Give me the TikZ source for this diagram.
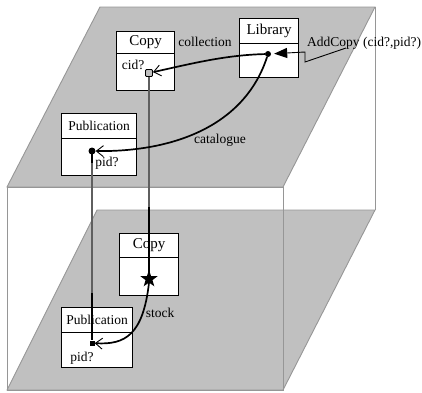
\documentclass[tikz,border=0pt]{standalone}
\usepackage{fontspec}
\setmainfont{Liberation Serif}
\usetikzlibrary{arrows.meta,shapes.geometric}
\definecolor{planegray}{RGB}{192,192,192}
\definecolor{edgegray}{RGB}{150,150,150}
\definecolor{projgray}{RGB}{95,95,95}

\begin{document}
\begin{tikzpicture}[x=1pt,y=-1pt,
  plane/.style={fill=planegray,draw=edgegray,line width=0.9pt},
  boxedge/.style={draw=edgegray,line width=0.9pt},
  part/.style={draw=black,fill=white,line width=1.1pt,inner sep=0pt,anchor=north west},
  title/.style={font=\fontsize{15}{17}\selectfont},
  ptitle/.style={font=\fontsize{13.5}{16}\selectfont},
  lbl/.style={inner sep=0pt,font=\fontsize{13.5}{16}\selectfont},
  conn/.style={draw=black,line width=1.7pt},
  barb/.style={-{Straight Barb[length=7pt,width=11pt,line width=0.9pt]}},
  proj/.style={draw=projgray,line width=1.3pt},
  projdark/.style={draw=black,line width=2pt},
  dot/.style={circle,fill=black,inner sep=0pt,minimum size=6pt}
]
\useasboundingbox (0,0) rectangle (422,392);

% the two layers of the box
\path[plane] (97,210) -- (375,210) -- (283,390) -- (7,390) -- cycle;
\path[plane] (100,7) -- (375,7) -- (283,187) -- (7,187) -- cycle;
\draw[boxedge] (7,187) rectangle (283,390);
\draw[boxedge] (375,7) -- (375,210);

% upper layer classes
\node[part,minimum width=58pt,minimum height=22pt,title] (copyH) at (116,31) {Copy};
\node[part,minimum width=58pt,minimum height=37pt] (copyB) at (116,53) {};
\node[part,minimum width=59pt,minimum height=25pt,title] (libH) at (239,18) {Library};
\node[part,minimum width=59pt,minimum height=34pt] (libB) at (239,43) {};
\node[part,minimum width=75pt,minimum height=25pt,ptitle] (pubH) at (61,113) {Publication};
\node[part,minimum width=75pt,minimum height=37pt] (pubB) at (61,138) {};

% lower layer classes
\node[part,minimum width=59pt,minimum height=24pt,title] (copyH2) at (119,233) {Copy};
\node[part,minimum width=59pt,minimum height=38pt] (copyB2) at (119,257) {};
\node[part,minimum width=71pt,minimum height=25pt,ptitle] (pubH2) at (61,307) {Publication};
\node[part,minimum width=71pt,minimum height=35pt] (pubB2) at (61,332) {};

% attribute labels
\node[lbl] (cidlbl) at (133,65) {cid?};
\node[lbl] (pidlbl) at (107,163) {pid?};
\node[lbl] (pidlbl2) at (82,358) {pid?};

% ports
\node[dot] (libdot) at (268,54) {};
\node[draw=black,fill=planegray,line width=0.9pt,rounded corners=1pt,inner sep=0pt,minimum size=7pt] (cid) at (149,73) {};
\node[dot,minimum size=7pt] (pubdot) at (92,151) {};
\node[star,star points=5,star point ratio=2.5,fill=black,inner sep=0pt,minimum size=18pt] (star) at (149,279) {};
\node[fill=black,inner sep=0pt,minimum size=5pt] (pubdot2) at (92,343) {};

% projections between the layers
\coordinate (cidmid) at (149,207);
\coordinate (pubmid) at (92,293);
\draw[proj] (cid) -- (star.center);
\draw[projdark] (cidmid) -- (star.center);
\draw[proj] (pubdot) -- (pubdot2);
\draw[projdark] (pubmid) -- (pubdot2);
\draw[projdark] (pubdot.center) -- ++(0,12);

% associations
\draw[conn,barb] (libdot) .. controls (225,55) and (190,64) .. (cid);
\draw[conn,barb] (libdot) .. controls (245,125) and (175,152) .. (pubdot);
\draw[conn,barb] (star.south) .. controls (143,335) and (125,345) .. (pubdot2);

% operation
\coordinate (addS) at (346,48);
\draw[black,line width=0.9pt,-{Triangle[length=13pt,width=10pt]},shorten >=3pt]
  (addS) -- (305,62) -- (305,52) -- (libdot);

% association and operation names
\node[lbl] (collection) at (205,42) {collection};
\node[lbl] (catalogue) at (220,140) {catalogue};
\node[lbl] (stock) at (160,313) {stock};
\node[lbl,anchor=west] (addcopy) at (307,43) {AddCopy (cid?,pid?)};
\end{tikzpicture}
\end{document}
